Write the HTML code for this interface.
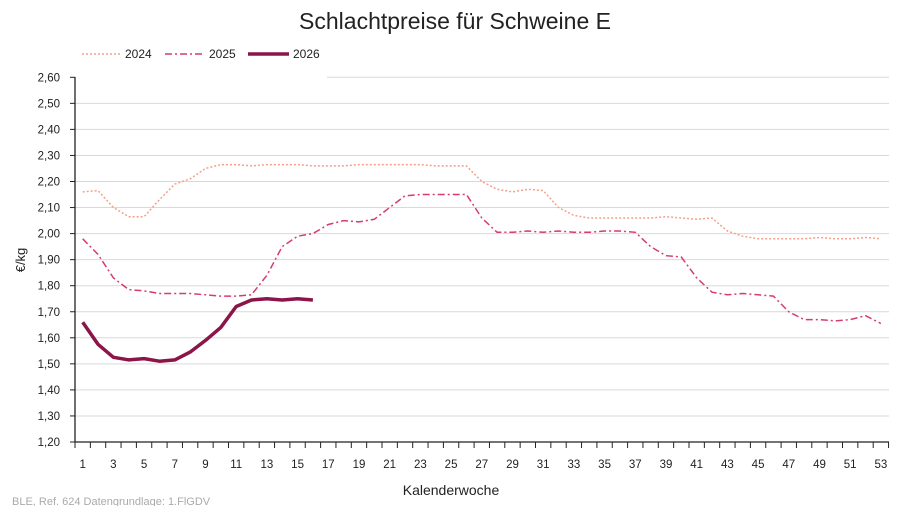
<!DOCTYPE html>
<html><head><meta charset="utf-8"><style>
html,body{margin:0;padding:0;background:#fff}
svg{display:block;font-family:"Liberation Sans",sans-serif}
</style></head><body>
<svg id="c" width="900" height="506" xmlns="http://www.w3.org/2000/svg">
<text x="455" y="29" text-anchor="middle" font-size="23" fill="#222">Schlachtpreise für Schweine E</text>
<g id="grid"></g>
<g id="series"></g>
<rect x="0" y="40" width="327" height="28" fill="#fff"/>
<line x1="82" y1="54" x2="121" y2="54" stroke="#f4a08c" stroke-width="1.5" stroke-dasharray="2,2"/>
<text x="125" y="58" font-size="12" fill="#222">2024</text>
<line x1="165" y1="54" x2="204" y2="54" stroke="#d63c6e" stroke-width="1.5" stroke-dasharray="7,3,2,3"/>
<text x="209" y="58" font-size="12" fill="#222">2025</text>
<line x1="248" y1="54" x2="289" y2="54" stroke="#8b1548" stroke-width="3.5"/>
<text x="293" y="58" font-size="12" fill="#222">2026</text>
<text x="12" y="505" font-size="11" fill="#aaa">BLE, Ref. 624 Datengrundlage: 1.FlGDV</text>
<text x="451" y="495" text-anchor="middle" font-size="14" fill="#222">Kalenderwoche</text>
<text transform="translate(25,260) rotate(-90)" text-anchor="middle" font-size="13" fill="#222">€/kg</text>
</svg>
<script>
var NS="http://www.w3.org/2000/svg";
function el(p,t,a,txt){var e=document.createElementNS(NS,t);for(var k in a)e.setAttribute(k,a[k]);if(txt!=null)e.textContent=txt;p.appendChild(e);return e;}
var g=document.getElementById('grid'),s=document.getElementById('series');
function X(w){return 75+15.35*(w-0.5);}
function Y(v){return 442-(v-1.2)*260.5;}
for(var i=0;i<=14;i++){var v=1.2+i*0.1,y=Y(v);
 if(i>0) el(g,'line',{x1:(i==14?327:75),x2:889,y1:y,y2:y,stroke:'#d9d9d9','stroke-width':1});
 el(g,'line',{x1:70,x2:75,y1:y,y2:y,stroke:'#222'});
 el(g,'text',{x:60,y:y+4,'text-anchor':'end','font-size':11.5,fill:'#222'},v.toFixed(2).replace('.',','));}
el(g,'line',{x1:75,x2:75,y1:77,y2:442,stroke:'#222','stroke-width':1.3});
el(g,'line',{x1:75,x2:889,y1:442,y2:442,stroke:'#222','stroke-width':1.3});
for(var w=0;w<=53;w++){var x=75+15.35*w;el(g,'line',{x1:x,x2:x,y1:442,y2:448,stroke:'#222'});}
for(var w=1;w<=53;w+=2)el(g,'text',{x:X(w),y:468,'text-anchor':'middle','font-size':11.5,fill:'#222'},w);
var d24=[2.16,2.165,2.10,2.065,2.065,2.13,2.19,2.21,2.25,2.265,2.265,2.26,2.265,2.265,2.265,2.26,2.26,2.26,2.265,2.265,2.265,2.265,2.265,2.26,2.26,2.26,2.20,2.17,2.16,2.17,2.165,2.10,2.07,2.06,2.06,2.06,2.06,2.06,2.065,2.06,2.055,2.06,2.01,1.99,1.98,1.98,1.98,1.98,1.985,1.98,1.98,1.985,1.98];
var d25=[1.98,1.92,1.83,1.785,1.78,1.77,1.77,1.77,1.765,1.76,1.76,1.765,1.84,1.95,1.99,2.00,2.035,2.05,2.045,2.055,2.10,2.145,2.15,2.15,2.15,2.15,2.06,2.005,2.005,2.01,2.005,2.01,2.005,2.005,2.01,2.01,2.005,1.95,1.915,1.91,1.83,1.775,1.765,1.77,1.765,1.76,1.70,1.67,1.67,1.665,1.67,1.685,1.655];
var d26=[1.66,1.575,1.525,1.515,1.52,1.51,1.515,1.545,1.59,1.64,1.72,1.745,1.75,1.745,1.75,1.745];
function pl(d,a){a.points=d.map(function(v,i){return X(i+1).toFixed(1)+','+Y(v).toFixed(1)}).join(' ');a.fill='none';el(s,'polyline',a);}
pl(d24,{stroke:'#f4a08c','stroke-width':1.5,'stroke-dasharray':'2,2'});
pl(d25,{stroke:'#d63c6e','stroke-width':1.5,'stroke-dasharray':'7,3,2,3'});
pl(d26,{stroke:'#8b1548','stroke-width':3.5,'stroke-linejoin':'round'});
</script>
</body></html>
